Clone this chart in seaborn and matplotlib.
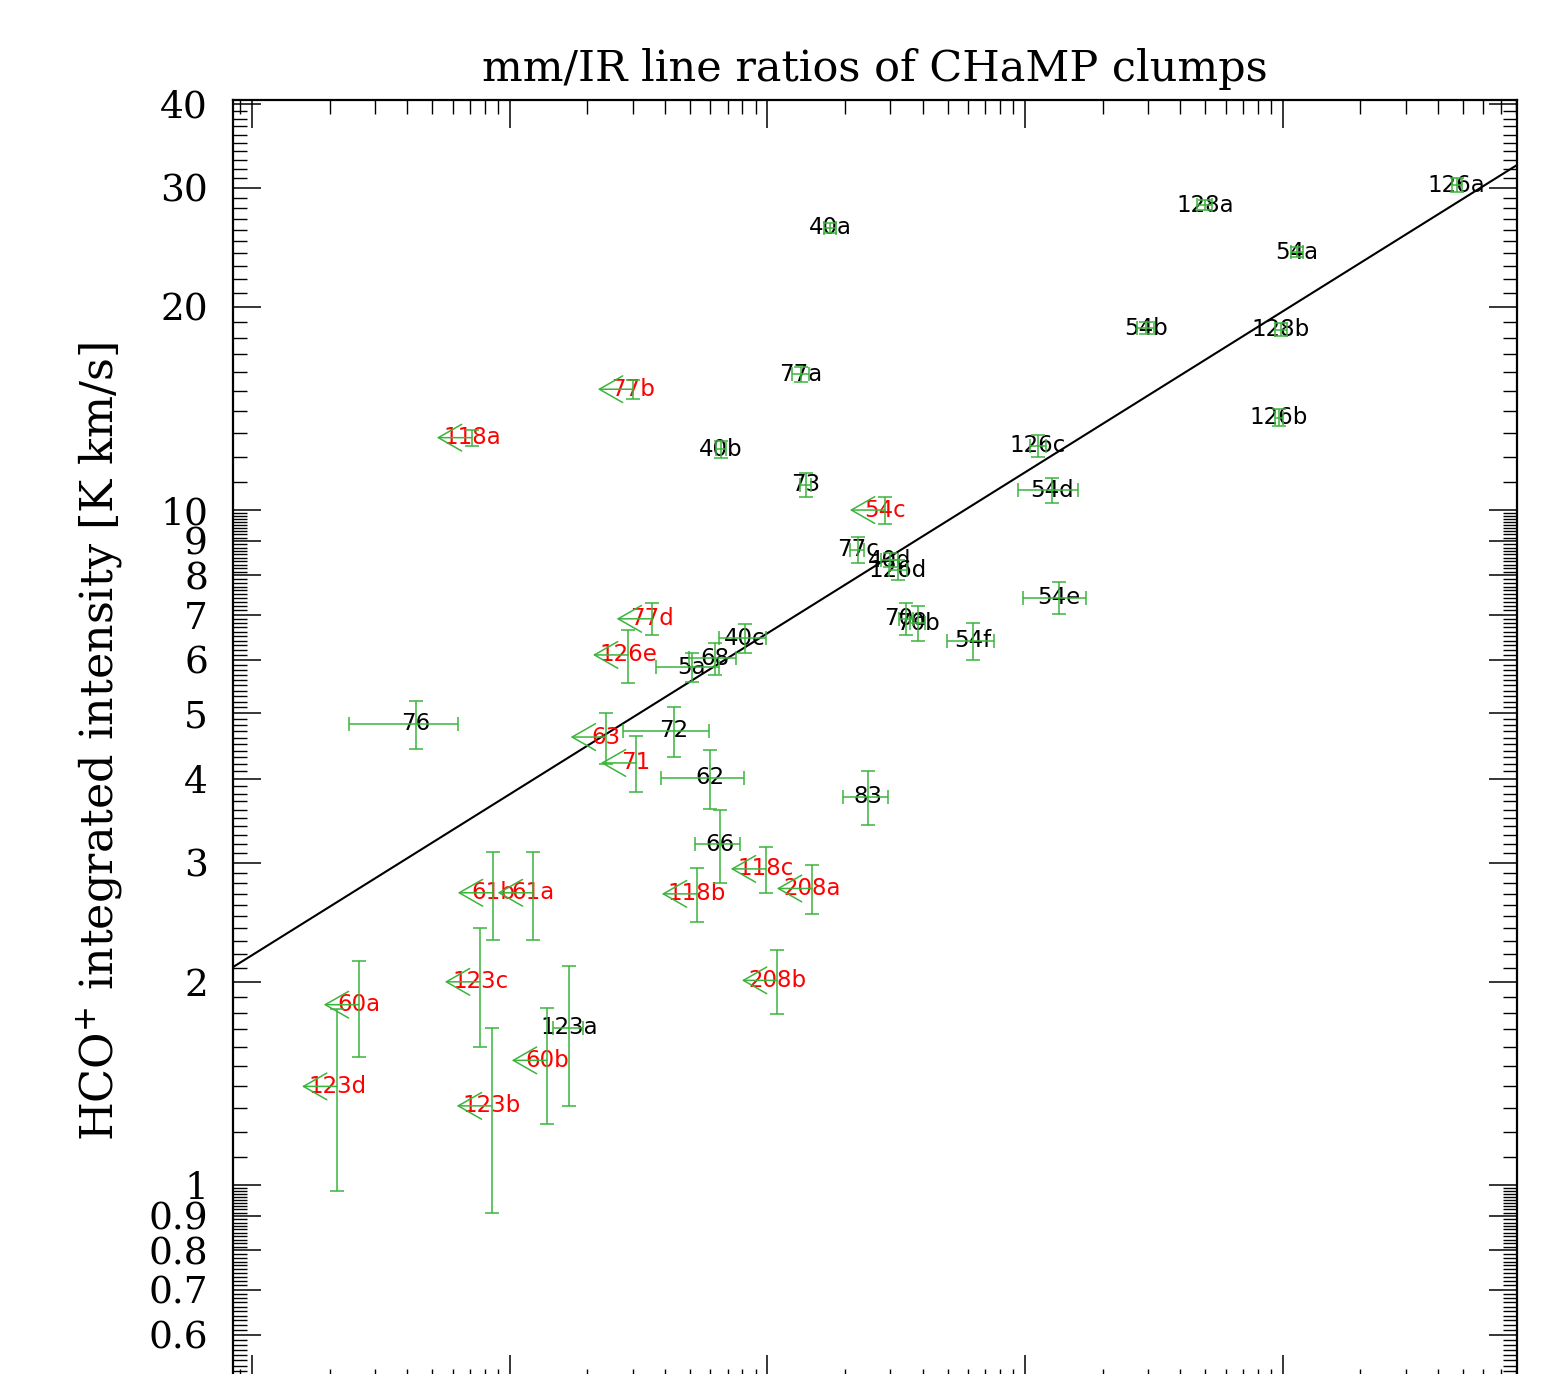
import numpy as np
import pandas as pd
import matplotlib
matplotlib.use("Agg")
import matplotlib.pyplot as plt
from matplotlib.ticker import FixedLocator, FuncFormatter, LogLocator, NullFormatter
import seaborn as sns

# Clumps detected in both tracers: IR line intensity and HCO+ integrated intensity
det_names = ["126a", "128a", "40a", "54a", "54b", "128b", "77a", "126b", "40b",
             "126c", "73", "54d", "77c", "40d", "126d", "70a", "70b", "54f",
             "54e", "40c", "68", "5a", "72", "76", "62", "66", "83", "123a"]
det_ir = [47300, 4980, 175, 11330, 2940, 9820, 135, 9650, 66.0,
          1120, 141, 1270, 224, 299, 321, 345, 384, 627,
          1350, 81.8, 62.6, 50.9, 43.4, 4.33, 59.8, 65.4, 245, 17.0]
det_ir_err = [2100, 350, 9, 600, 220, 530, 10, 350, 3,
              80, 7, 330, 14, 22, 26, 22, 25, 130,
              370, 17, 13, 14, 16, 1.95, 21, 13, 49, 2.3]
det_hco = [30.3, 28.3, 26.2, 24.1, 18.6, 18.5, 15.9, 13.7, 12.3,
           12.45, 10.9, 10.7, 8.73, 8.43, 8.15, 6.90, 6.80, 6.40,
           7.41, 6.46, 6.03, 5.85, 4.71, 4.82, 4.01, 3.20, 3.76, 1.71]
det_hco_err = [0.7, 0.5, 0.45, 0.4, 0.4, 0.4, 0.4, 0.4, 0.35,
               0.45, 0.45, 0.45, 0.39, 0.2, 0.28, 0.38, 0.40, 0.4,
               0.4, 0.31, 0.33, 0.28, 0.4, 0.4, 0.4, 0.4, 0.35, 0.4]

# Clumps with only an upper limit on the IR line intensity
lim_names = ["118a", "77b", "54c", "77d", "126e", "63", "71", "118b", "118c",
             "208a", "208b", "61b", "61a", "123c", "60a", "123d", "123b", "60b"]
lim_ir = [7.14, 30.1, 286, 35.6, 28.8, 23.6, 30.9, 53.3, 98.7,
          149, 109, 8.61, 12.3, 7.67, 2.60, 2.14, 8.53, 13.95]
lim_hco = [12.8, 15.1, 10.0, 6.90, 6.10, 4.61, 4.22, 2.70, 2.94,
           2.75, 2.01, 2.71, 2.71, 2.00, 1.85, 1.40, 1.31, 1.53]
lim_hco_err = [0.35, 0.5, 0.45, 0.38, 0.55, 0.4, 0.4, 0.25, 0.23,
               0.23, 0.22, 0.4, 0.4, 0.4, 0.3, 0.42, 0.4, 0.3]

# Power-law fit  HCO+ = norm * IR^slope
fit_norm = 2.19
fit_slope = 0.2385

# Axis ranges and y tick values
x_range = (0.844, 8.1e4)
y_range = (0.509, 40.5)
y_major = [0.6, 0.7, 0.8, 0.9, 1, 2, 3, 4, 5, 6, 7, 8, 9, 10, 20, 30, 40]

GREEN = "#3cb43c"
ARROW_FRAC = 0.73  # length of the upper-limit arrows, as a factor in x
LABEL_SIZE = 16.5

sns.set_theme(style="ticks")
plt.rcParams["font.family"] = ["DejaVu Sans"]
plt.rcParams["mathtext.fontset"] = "dejavuserif"

fig = plt.figure(figsize=(15.5, 13.74), dpi=100)
ax = fig.add_axes([233 / 1550, -9 / 1374, 1284 / 1550, 1283 / 1374])

ax.set_xscale("log")
ax.set_yscale("log")
ax.set_xlim(*x_range)
ax.set_ylim(*y_range)

# fitted relation
x_fit = np.logspace(np.log10(x_range[0]), np.log10(x_range[1]), 60)
fit_df = pd.DataFrame({"ir": x_fit, "hco": fit_norm * x_fit ** fit_slope})
sns.lineplot(data=fit_df, x="ir", y="hco", color="black", lw=1.5, ax=ax, zorder=2)

# detections with error bars in both directions
ax.errorbar(det_ir, det_hco, xerr=det_ir_err, yerr=det_hco_err, fmt="none",
            ecolor=GREEN, elinewidth=1.1, capsize=5, capthick=1.1, zorder=4)
for name, x, y in zip(det_names, det_ir, det_hco):
    ax.text(x, y, name, ha="center", va="center", fontsize=LABEL_SIZE,
            color="black", zorder=3)

# upper limits: vertical error bar plus a left-pointing arrow
ax.errorbar(lim_ir, lim_hco, yerr=lim_hco_err, fmt="none",
            ecolor=GREEN, elinewidth=1.1, capsize=5, capthick=1.1, zorder=4)
for x, y in zip(lim_ir, lim_hco):
    ax.annotate("", xy=(x * ARROW_FRAC, y), xytext=(x, y),
                arrowprops=dict(arrowstyle="->, head_length=1.4, head_width=0.8",
                                color=GREEN, lw=1.1, shrinkA=0, shrinkB=0),
                zorder=4)
for name, x, y in zip(lim_names, lim_ir, lim_hco):
    ax.text(x, y, name, ha="center", va="center", fontsize=LABEL_SIZE,
            color="red", zorder=3)

# IDL-like tick layout
y_minor = np.concatenate([np.arange(0.51, 1.0, 0.01),
                          np.arange(1.1, 10.0, 0.1),
                          np.arange(11, 40, 1)])
ax.yaxis.set_major_locator(FixedLocator(y_major))
ax.yaxis.set_minor_locator(FixedLocator(y_minor))
ax.yaxis.set_major_formatter(FuncFormatter(lambda v, p: f"{v:g}"))
ax.yaxis.set_minor_formatter(NullFormatter())
ax.xaxis.set_major_locator(LogLocator(base=10))
ax.xaxis.set_minor_locator(LogLocator(base=10, subs=np.arange(2, 10)))
ax.xaxis.set_major_formatter(NullFormatter())
ax.xaxis.set_minor_formatter(NullFormatter())

ax.tick_params(which="both", direction="in", top=True, right=True,
               bottom=True, left=True, labelbottom=False, color="black")
ax.tick_params(which="major", length=20, width=1.1, pad=18)
ax.tick_params(which="minor", length=10, width=1.0)
for lab in ax.get_yticklabels():
    lab.set_fontfamily("DejaVu Serif")
    lab.set_fontsize(27)
    lab.set_color("black")

for sp in ax.spines.values():
    sp.set_visible(True)
    sp.set_linewidth(1.6)
    sp.set_color("black")
ax.grid(False)
ax.set_facecolor("white")

ax.set_xlabel("")
ax.set_ylabel("HCO$^{+}$ integrated intensity [K km/s]", fontsize=32,
              fontfamily="DejaVu Serif", color="black", ha="center", va="center")
ax.yaxis.set_label_coords((100 - 233) / 1284, (1383 - 742) / 1283)
ax.set_title("mm/IR line ratios of CHaMP clumps", fontsize=31,
             fontfamily="DejaVu Serif", color="black", pad=14)

fig.savefig("out.png", dpi=100, facecolor="white")
